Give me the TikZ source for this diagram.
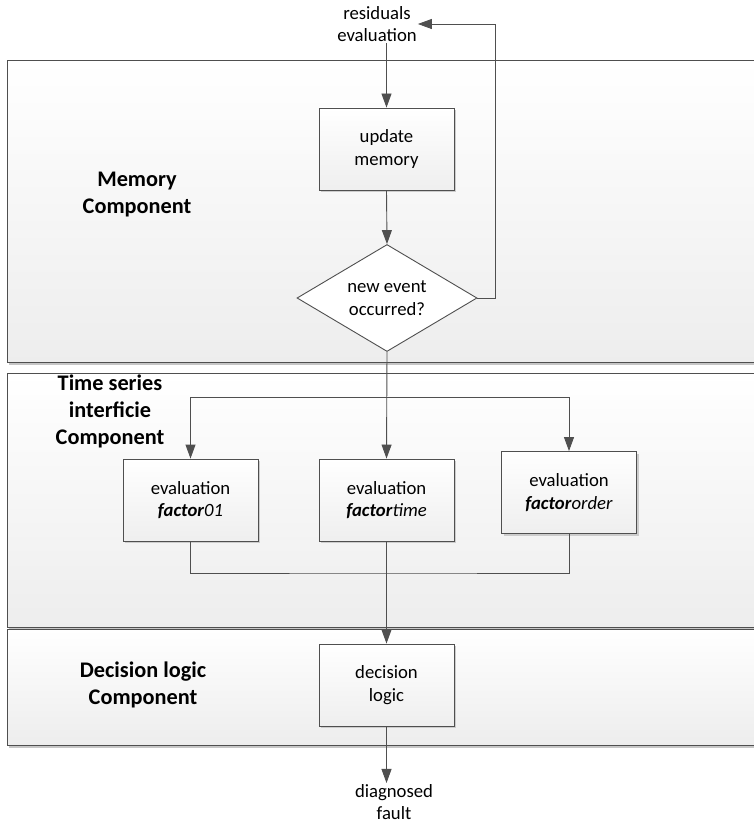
\documentclass[tikz,border=0pt]{standalone}
\usepackage{fontspec}
\setmainfont{Carlito}
\usetikzlibrary{shapes.geometric,arrows.meta,shadows}
\definecolor{linegray}{HTML}{4F4F4F}
\newcommand{\boxfont}{\fontsize{18.7}{22.5}\selectfont}
\newcommand{\labfont}{\fontsize{22.3}{27}\selectfont\bfseries}
\begin{document}
\begin{tikzpicture}[x=1pt, y=-1pt,
		panel/.style={draw=linegray, line width=.9pt, top color=white, bottom color=gray!14,
			drop shadow={shadow xshift=1.5pt, shadow yshift=-2.5pt, fill=gray!45, opacity=1}},
		stepbox/.style={draw=linegray, line width=.9pt, top color=white, bottom color=gray!13,
			minimum width=135pt, minimum height=82pt, align=center, font=\boxfont, inner sep=0pt,
			drop shadow={shadow xshift=2pt, shadow yshift=-2pt, fill=gray!40, opacity=1}},
		decide/.style={diamond, draw=linegray, line width=.9pt, fill=white, aspect=1.7,
			minimum width=180pt, minimum height=107pt, align=center, font=\boxfont, inner sep=0pt},
		plain/.style={align=center, font=\boxfont, inner sep=1pt},
		lab/.style={align=center, font=\labfont, inner sep=0pt},
		flow/.style={draw=linegray, line width=.9pt},
		arr/.style={flow, -{Triangle[length=14pt, width=10pt]}}]
		\useasboundingbox[fill=white] (0, 0) rectangle (753, 824);
		\path[panel] (7, 60) rectangle (760, 362);
		\path[panel] (7, 373) rectangle (760, 627);
		\path[panel] (7, 629) rectangle (760, 745);
		\node[lab] (memlab) at (137, 195) {Memory\\Component};
		\node[lab] (tslab) at (110, 411) {Time series\\interficie\\Component};
		\node[lab] (declab) at (143, 685) {Decision logic\\Component};
		\node[plain] (res) at (377, 24) {residuals\\evaluation};
		\node[stepbox] (upd) at (386.5, 149) {update\\memory};
		\node[decide] (evt) at (387, 298) {new event\\occurred?};
		\node[stepbox] (ev1) at (190.5, 500) {evaluation\\\textbf{\textit{factor}}\textit{01}};
		\node[stepbox] (ev2) at (386.5, 500) {evaluation\\\textbf{\textit{factor}}\textit{time}};
		\node[stepbox] (ev3) at (569, 492.5) {evaluation\\\textbf{\textit{factor}}\textit{order}};
		\node[stepbox] (dec) at (386.5, 685) {decision\\logic};
		\node[plain] (fault) at (394, 802) {diagnosed\\fault};
		\coordinate (split) at (386.5, 397);
		\coordinate (merge) at (386.5, 573);
		\draw[arr] (res.south -| upd.north) -- (upd.north);
		\draw[arr] (upd.south) -- (evt.north);
		\draw[arr] (evt.east) -- ++(18, 0) |- (res.east);
		\draw[arr] (evt.south) -- (ev2.north);
		\draw[arr] (split) -| (ev1.north);
		\draw[arr] (split) -| (ev3.north);
		\draw[flow] (ev1.south) |- (merge) -| (ev3.south);
		\draw[arr] (ev2.south) -- (dec.north);
		\draw[arr] (dec.south) -- (dec.south |- fault.north);
\end{tikzpicture}
\end{document}
